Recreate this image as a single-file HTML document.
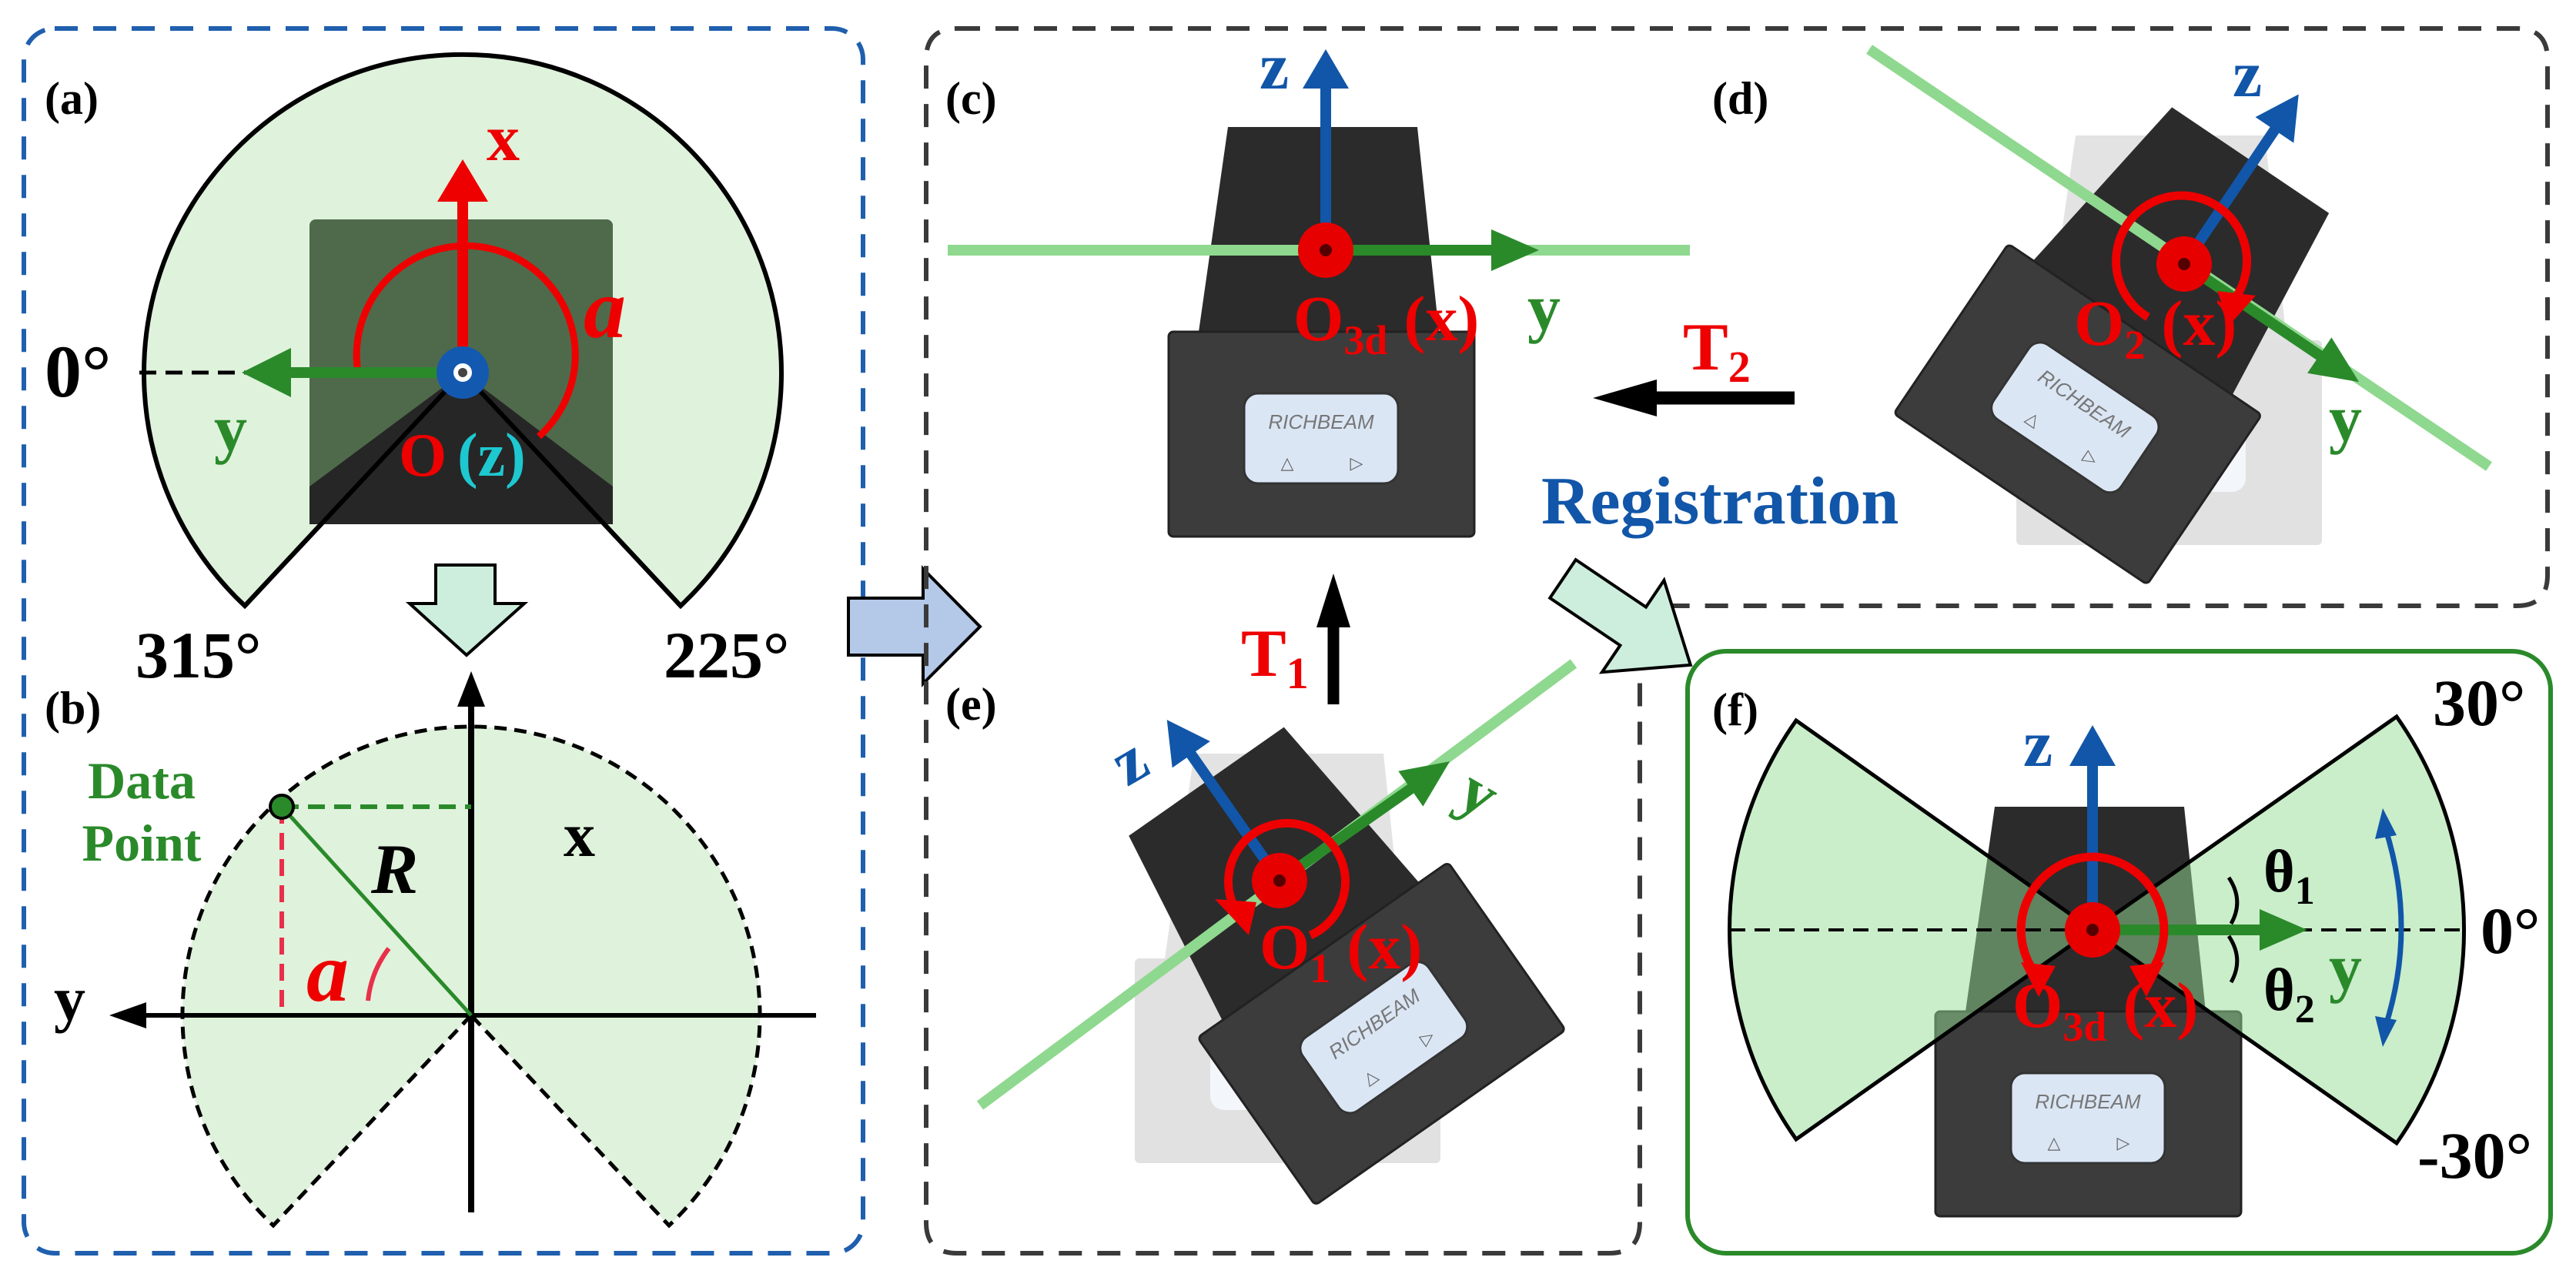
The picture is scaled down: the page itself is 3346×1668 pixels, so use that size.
<!DOCTYPE html>
<html><head><meta charset="utf-8"><style>
html,body{margin:0;padding:0;background:#fff}
svg{display:block}
text{font-family:"Liberation Serif",serif;font-weight:bold}
</style></head><body>
<svg width="3346" height="1668" viewBox="0 0 3346 1668" xmlns="http://www.w3.org/2000/svg">
<defs>
<g id="sensor">
  <path d="M-127,-160 L119,-160 L147,106 L-165,106 Z" fill="#2b2b2b"/>
  <rect x="-204" y="106" width="397" height="266" rx="6" fill="#3c3c3c" stroke="#222" stroke-width="3"/>
  <rect x="-106" y="186" width="200" height="117" rx="18" fill="#dbe6f5" stroke="#333" stroke-width="3"/>
  <text x="-6" y="232" font-size="26" fill="#777" font-style="italic" text-anchor="middle" style="font-family:'Liberation Sans',sans-serif;font-weight:normal">RICHBEAM</text>
  <text x="-50" y="284" font-size="22" fill="#666" text-anchor="middle" style="font-weight:normal">△</text>
  <text x="40" y="284" font-size="22" fill="#666" text-anchor="middle" style="font-weight:normal">▷</text>
</g>
<g id="ghost" opacity="0.5">
  <path d="M-127,-160 L119,-160 L147,106 L-165,106 Z" fill="#c8c8c8"/>
  <rect x="-204" y="106" width="397" height="266" rx="6" fill="#c4c4c4"/>
  <rect x="-106" y="186" width="200" height="117" rx="18" fill="#e8eef8"/>
</g>
</defs>

<!-- Left panel -->
<rect x="31" y="37" width="1090" height="1591" rx="40" fill="none" stroke="#1f5fae" stroke-width="6" stroke-dasharray="30 20"/>
<text x="58" y="148" font-size="60">(a)</text>
<path d="M601,484 L318,787 A414,414 0 1 1 884,787 Z" fill="#dff2dc" stroke="#000" stroke-width="6"/>
<rect x="402" y="285" width="394" height="396" rx="8" fill="#4f6a4b"/>
<path d="M601,484 L402,632 L402,681 L796,681 L796,632 Z" fill="#262626"/>
<path d="M601,484 L318,787 M601,484 L884,787" stroke="#000" stroke-width="6"/>
<line x1="181" y1="484" x2="320" y2="484" stroke="#000" stroke-width="5" stroke-dasharray="22 12"/>
<path d="M465,484 A142,142 0 1 1 700,567" fill="none" stroke="#e00" stroke-width="9"/>
<line x1="601" y1="484" x2="601" y2="255" stroke="#e00" stroke-width="14"/>
<polygon points="601,207 568,262 634,262" fill="#e00"/>
<line x1="601" y1="484" x2="360" y2="484" stroke="#2a8a2a" stroke-width="14"/>
<polygon points="314,484 378,452 378,516" fill="#2a8a2a"/>
<circle cx="601" cy="484" r="34" fill="#1459b0"/>
<circle cx="601" cy="484" r="12" fill="#fff"/>
<circle cx="601" cy="484" r="6" fill="#444"/>
<text x="632" y="208" font-size="86" fill="#e00">x</text>
<text x="758" y="438" font-size="110" fill="#e00" font-style="italic">a</text>
<text x="278" y="585" font-size="86" fill="#2a8a2a">y</text>
<text x="58" y="515" font-size="96">0°</text>
<text x="518" y="618" font-size="80" fill="#e00">O</text>
<text x="594" y="618" font-size="80" fill="#1ec8d0">(z)</text>
<polygon points="566,734 643,734 643,784 681,784 606,851 532,784 566,784" fill="#cdeedd" stroke="#000" stroke-width="4"/>
<text x="176" y="880" font-size="86">315°</text>
<text x="862" y="880" font-size="86">225°</text>
<text x="58" y="940" font-size="60">(b)</text>
<path d="M612,1319 L355,1592 A375,375 0 1 1 869,1592 Z" fill="#dff2dc" stroke="#000" stroke-width="5" stroke-dasharray="16 10"/>
<line x1="612" y1="1575" x2="612" y2="910" stroke="#000" stroke-width="8"/>
<polygon points="612,872 594,918 630,918" fill="#000"/>
<line x1="1060" y1="1319" x2="180" y2="1319" stroke="#000" stroke-width="6"/>
<polygon points="142,1319 190,1302 190,1336" fill="#000"/>
<line x1="366" y1="1048" x2="612" y2="1048" stroke="#2a8a2a" stroke-width="6" stroke-dasharray="22 12"/>
<line x1="366" y1="1048" x2="366" y2="1319" stroke="#e8304a" stroke-width="6" stroke-dasharray="22 12"/>
<line x1="366" y1="1048" x2="612" y2="1319" stroke="#2a8a2a" stroke-width="5"/>
<circle cx="366" cy="1048" r="15" fill="#2a8a2a" stroke="#000" stroke-width="4"/>
<path d="M478,1300 A135,135 0 0 1 505,1232" fill="none" stroke="#e8304a" stroke-width="6"/>
<text x="482" y="1160" font-size="92" font-style="italic">R</text>
<text x="398" y="1300" font-size="110" fill="#e00" font-style="italic">a</text>
<text x="732" y="1112" font-size="82">x</text>
<text x="70" y="1325" font-size="82">y</text>
<text x="184" y="1037" font-size="68" fill="#2a8a2a" text-anchor="middle">Data</text>
<text x="184" y="1118" font-size="68" fill="#2a8a2a" text-anchor="middle">Point</text>

<!-- middle arrow -->
<polygon points="1102,777 1199,777 1199,739 1273,814 1199,888 1199,851 1102,851" fill="#b4c8e8" stroke="#000" stroke-width="4"/>

<!-- middle/top-right dashed panel -->
<path d="M1243,37 L3269,37 Q3309,37 3309,77 L3309,747 Q3309,787 3269,787 L2170,787 Q2130,787 2130,827 L2130,1588 Q2130,1628 2090,1628 L1243,1628 Q1203,1628 1203,1588 L1203,77 Q1203,37 1243,37 Z" fill="none" stroke="#3a3a3a" stroke-width="6" stroke-dasharray="30 20"/>

<!-- (c) -->
<text x="1228" y="148" font-size="60">(c)</text>
<use href="#sensor" transform="translate(1722,325)"/>
<line x1="1231" y1="325" x2="2195" y2="325" stroke="#8fd88f" stroke-width="14"/>
<line x1="1722" y1="325" x2="1722" y2="110" stroke="#1156a8" stroke-width="14"/>
<polygon points="1722,64 1692,115 1752,115" fill="#1156a8"/>
<line x1="1722" y1="325" x2="1950" y2="325" stroke="#2a8a2a" stroke-width="14"/>
<polygon points="1999,325 1937,298 1937,352" fill="#2a8a2a"/>
<circle cx="1722" cy="325" r="36" fill="#e60000"/>
<circle cx="1722" cy="325" r="8" fill="#500"/>
<text x="1636" y="115" font-size="86" fill="#1156a8">z</text>
<text x="1984" y="428" font-size="86" fill="#2a8a2a">y</text>
<text x="1680" y="442" font-size="84" fill="#e00">O<tspan font-size="54" dy="18">3d</tspan><tspan dy="-18"> (x)</tspan></text>

<!-- T2 / Registration / T1 -->
<line x1="2331" y1="517" x2="2140" y2="517" stroke="#000" stroke-width="17"/>
<polygon points="2069,517 2152,493 2152,541" fill="#000"/>
<text x="2186" y="480" font-size="88" fill="#e00">T<tspan font-size="58" dy="16">2</tspan></text>
<text x="2002" y="680" font-size="88" fill="#1156a8">Registration</text>
<line x1="1732" y1="915" x2="1732" y2="810" stroke="#000" stroke-width="15"/>
<polygon points="1732,745 1710,815 1754,815" fill="#000"/>
<text x="1612" y="878" font-size="88" fill="#e00">T<tspan font-size="58" dy="16">1</tspan></text>
<g transform="translate(2030,752) rotate(34)">
<polygon points="0,-30 110,-30 110,-72 200,0 110,72 110,30 0,30" fill="#cdeedd" stroke="#000" stroke-width="4"/>
</g>

<!-- (e) -->
<text x="1228" y="935" font-size="60">(e)</text>
<use href="#ghost" transform="translate(1678,1139)"/>
<g transform="translate(1662,1144) rotate(-35)">
<use href="#sensor"/>
</g>
<line x1="1273" y1="1436" x2="2044" y2="862" stroke="#8fd88f" stroke-width="14"/>
<g transform="translate(1662,1144) rotate(-35)">
<line x1="0" y1="0" x2="0" y2="-205" stroke="#1156a8" stroke-width="14"/>
<polygon points="0,-255 -30,-200 30,-200" fill="#1156a8"/>
<line x1="0" y1="0" x2="215" y2="0" stroke="#2a8a2a" stroke-width="14"/>
<polygon points="270,0 208,-28 208,28" fill="#2a8a2a"/>
</g>
<path d="M1702,1215 A76,76 0 1 0 1610,1190" fill="none" stroke="#e00" stroke-width="11"/>
<polygon points="1578,1168 1632,1172 1622,1215" fill="#e00"/>
<circle cx="1662" cy="1144" r="36" fill="#e60000"/>
<circle cx="1662" cy="1144" r="8" fill="#500"/>
<text x="1450" y="1010" font-size="86" fill="#1156a8" transform="rotate(-30 1480 990)">z</text>
<text x="1900" y="1060" font-size="86" fill="#2a8a2a" transform="rotate(30 1925 1030)">y</text>
<text x="1636" y="1258" font-size="84" fill="#e00">O<tspan font-size="54" dy="18">1</tspan><tspan dy="-18"> (x)</tspan></text>

<!-- (d) -->
<text x="2224" y="148" font-size="60">(d)</text>
<use href="#ghost" transform="translate(2823,336)"/>
<g transform="translate(2837,343) rotate(34)">
<use href="#sensor"/>
</g>
<line x1="2428" y1="64" x2="3233" y2="606" stroke="#8fd88f" stroke-width="14"/>
<g transform="translate(2837,343) rotate(34)">
<line x1="0" y1="0" x2="0" y2="-215" stroke="#1156a8" stroke-width="14"/>
<polygon points="0,-266 -30,-210 30,-210" fill="#1156a8"/>
<line x1="0" y1="0" x2="220" y2="0" stroke="#2a8a2a" stroke-width="14"/>
<polygon points="274,0 212,-28 212,28" fill="#2a8a2a"/>
</g>
<path d="M2790,412 A85,85 0 1 1 2900,392" fill="none" stroke="#e00" stroke-width="11"/>
<polygon points="2880,378 2930,384 2896,422" fill="#e00"/>
<circle cx="2837" cy="343" r="36" fill="#e60000"/>
<circle cx="2837" cy="343" r="8" fill="#500"/>
<text x="2900" y="125" font-size="86" fill="#1156a8">z</text>
<text x="3025" y="572" font-size="86" fill="#2a8a2a">y</text>
<text x="2694" y="448" font-size="84" fill="#e00">O<tspan font-size="54" dy="18">2</tspan><tspan dy="-18"> (x)</tspan></text>

<!-- (f) -->
<rect x="2192" y="846" width="1121" height="782" rx="50" fill="none" stroke="#2a8a2a" stroke-width="6"/>
<text x="2224" y="942" font-size="60">(f)</text>
<use href="#sensor" transform="translate(2718,1208)"/>
<path d="M2718,1208 L2333,936 A471,471 0 0 0 2333,1480 Z" fill="rgba(150,220,150,0.5)" stroke="#000" stroke-width="5"/>
<path d="M2718,1208 L3113,931 A482,482 0 0 1 3113,1485 Z" fill="rgba(150,220,150,0.5)" stroke="#000" stroke-width="5"/>
<line x1="2247" y1="1208" x2="3206" y2="1208" stroke="#000" stroke-width="4" stroke-dasharray="20 12"/>
<line x1="2718" y1="1208" x2="2718" y2="990" stroke="#1156a8" stroke-width="14"/>
<polygon points="2718,942 2688,995 2748,995" fill="#1156a8"/>
<line x1="2718" y1="1208" x2="2945" y2="1208" stroke="#2a8a2a" stroke-width="14"/>
<polygon points="2997,1208 2935,1181 2935,1235" fill="#2a8a2a"/>
<path d="M2718,1113 A95,95 0 0 0 2650,1272" fill="none" stroke="#e00" stroke-width="11"/>
<polygon points="2625,1250 2670,1255 2648,1295" fill="#e00"/>
<path d="M2718,1113 A95,95 0 0 1 2786,1272" fill="none" stroke="#e00" stroke-width="11"/>
<polygon points="2811,1250 2766,1255 2788,1295" fill="#e00"/>
<circle cx="2718" cy="1208" r="36" fill="#e60000"/>
<circle cx="2718" cy="1208" r="8" fill="#500"/>
<path d="M2895,1140 Q2915,1170 2898,1200 M2895,1216 Q2915,1246 2898,1276" fill="none" stroke="#000" stroke-width="5"/>
<text x="2940" y="1158" font-size="78">θ<tspan font-size="52" dy="16">1</tspan></text>
<text x="2940" y="1312" font-size="78">θ<tspan font-size="52" dy="16">2</tspan></text>
<text x="3025" y="1285" font-size="86" fill="#2a8a2a">y</text>
<text x="2628" y="995" font-size="86" fill="#1156a8">z</text>
<path d="M3098,1075 Q3140,1205 3098,1335" fill="none" stroke="#1156a8" stroke-width="7"/>
<polygon points="3095,1050 3085,1090 3113,1085" fill="#1156a8"/>
<polygon points="3095,1360 3085,1320 3113,1325" fill="#1156a8"/>
<text x="3160" y="942" font-size="86">30°</text>
<text x="3222" y="1238" font-size="86">0°</text>
<text x="3140" y="1530" font-size="86">-30°</text>
<text x="2614" y="1334" font-size="84" fill="#e00">O<tspan font-size="54" dy="18">3d</tspan><tspan dy="-18"> (x)</tspan></text>
</svg>
</body></html>
